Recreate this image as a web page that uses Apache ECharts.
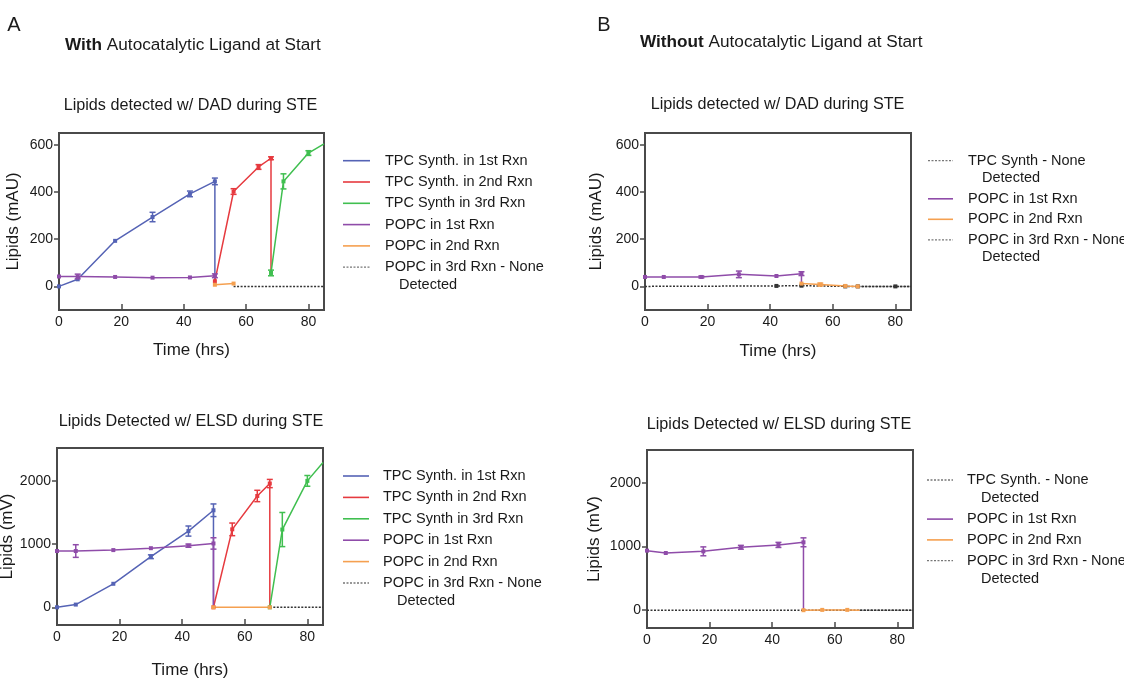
<!DOCTYPE html>
<html><head><meta charset="utf-8">
<script src="https://cdn.jsdelivr.net/npm/echarts@6/dist/echarts.min.js"></script>
<style>html,body{margin:0;padding:0;background:#fff}#c{width:1124px;height:678px}</style>
</head><body><div id="c"></div>
<script>
// ---------------- DATA ----------------
// each point: [time (hrs), value, error]  (error null = no marker, 0 = marker only)
const xTicks = [0, 20, 40, 60, 80];
const yTicksDAD = [0, 200, 400, 600];
const yTicksELSD = [0, 1000, 2000];

// Panel A – DAD (mAU)
const aDadTpc1 = [[0,0,0],[6,30,0],[18,193,0],[30,294,20],[42,392,12],[50,445,14],[50,26,null]];
const aDadTpc2 = [[50,22,0],[56,402,12],[64,506,10],[68,543,6],[68,57,null]];
const aDadTpc3 = [[68,57,12],[72,445,32],[80,565,10],[85,604,null]];
const aDadPopc1 = [[0,42,0],[6,42,10],[18,40,0],[30,37,0],[42,38,0],[50,45,8]];
const aDadPopc2 = [[50,7,0],[56,12,0]];
const aDadPopc3 = [[56,0,null],[85,0,null]];

// Panel A – ELSD (mV)
const aElsdTpc1 = [[0,0,0],[6,43,0],[18,372,0],[30,800,30],[42,1206,80],[50,1535,100],[50,0,null]];
const aElsdTpc2 = [[50,0,0],[56,1233,100],[64,1761,90],[68,1958,65],[68,0,null]];
const aElsdTpc3 = [[68,0,0],[72,1230,270],[80,2000,85],[85,2290,null]];
const aElsdPopc1 = [[0,890,0],[6,890,100],[18,905,0],[30,935,0],[42,975,25],[50,1010,90],[50,0,null]];
const aElsdPopc2 = [[50,0,0],[68,0,0]];
const aElsdPopc3 = [[68,0,null],[85,0,null]];

// Panel B – DAD (mAU)
const bDadTpc = [[0,0,null],[42,2,0],[50,3,0],[64,0,0],[68,0,0],[80,0,0],[85,0,null]];
const bDadPopc1 = [[0,40,0],[6,40,0],[18,40,4],[30,51,14],[42,44,0],[50,54,8],[50,14,null]];
const bDadPopc2 = [[50,12,0],[56,8,6],[64,2,0],[68,0,0]];
const bDadPopc3 = [[68,0,null],[85,0,null]];

// Panel B – ELSD (mV)
const bElsdTpc = [[0,0,null],[85,0,null]];
const bElsdPopc1 = [[0,937,0],[6,900,0],[18,926,70],[30,990,30],[42,1027,40],[50,1068,70],[50,0,null]];
const bElsdPopc2 = [[50,0,0],[56,5,0],[64,5,0],[68,0,null]];
const bElsdPopc3 = [[68,0,null],[85,0,null]];

// Series names (legend labels)
const namesADad = ['TPC Synth. in 1st Rxn','TPC Synth. in 2nd Rxn','TPC Synth in 3rd Rxn','POPC in 1st Rxn','POPC in 2nd Rxn','POPC in 3rd Rxn - None\nDetected'];
const namesAElsd = ['TPC Synth. in 1st Rxn','TPC Synth in 2nd Rxn','TPC Synth in 3rd Rxn','POPC in 1st Rxn','POPC in 2nd Rxn','POPC in 3rd Rxn - None\nDetected'];
const namesBDad = ['TPC Synth - None\nDetected','POPC in 1st Rxn','POPC in 2nd Rxn','POPC in 3rd Rxn - None\nDetected'];
const namesBElsd = ['TPC Synth. - None\nDetected','POPC in 1st Rxn','POPC in 2nd Rxn','POPC in 3rd Rxn - None\nDetected'];

// ---------------- STYLE ----------------
const FONT = '"Liberation Sans", Arial, Helvetica, sans-serif';
const C = {blue:'#5563b5', red:'#e63a3f', green:'#40bf50', purple:'#8f4ca9', orange:'#f5a050', black:'#333333'};
const FRAME = '#4a4a4a';

const panels = [
  {grid:{left:59, top:133, width:265, height:177}, y:[-100,650], yTicks:yTicksDAD, yName:'Lipids (mAU)', yGap:37, xName:'Time (hrs)', xGap:32,
   lines:[[aDadTpc1,C.blue,0],[aDadTpc2,C.red,0],[aDadTpc3,C.green,0],[aDadPopc1,C.purple,0],[aDadPopc2,C.orange,0],[aDadPopc3,C.black,1]],
   names:namesADad, leg:{x1:343, x2:370, tx:385, y:160.7, step:21.3, wrap:17.4}},
  {grid:{left:57, top:448, width:266, height:177}, y:[-280,2520], yTicks:yTicksELSD, yName:'Lipids (mV)', yGap:40, xName:'Time (hrs)', xGap:37,
   lines:[[aElsdTpc1,C.blue,0],[aElsdTpc2,C.red,0],[aElsdTpc3,C.green,0],[aElsdPopc1,C.purple,0],[aElsdPopc2,C.orange,0],[aElsdPopc3,C.black,1]],
   names:namesAElsd, leg:{x1:343, x2:369, tx:383, y:476, step:21.4, wrap:18}},
  {grid:{left:645, top:133, width:266, height:177}, y:[-100,650], yTicks:yTicksDAD, yName:'Lipids (mAU)', yGap:40, xName:'Time (hrs)', xGap:33,
   lines:[[bDadTpc,C.black,1],[bDadPopc1,C.purple,0],[bDadPopc2,C.orange,0],[bDadPopc3,C.black,1]],
   names:namesBDad, leg:{x1:928, x2:953, tx:968, y:160.7, step:20.5, wrap:17.6}},
  {grid:{left:647, top:450, width:266, height:178}, y:[-280,2520], yTicks:yTicksELSD, yName:'Lipids (mV)', yGap:44, xName:'', xGap:33,
   lines:[[bElsdTpc,C.black,1],[bElsdPopc1,C.purple,0],[bElsdPopc2,C.orange,0],[bElsdPopc3,C.black,1]],
   names:namesBElsd, leg:{x1:927, x2:953, tx:967, y:480, step:20.8, wrap:18.3}}
];

function markRender(color) {
  return function (params, api) {
    const t = api.value(0), v = api.value(1), e = api.value(2);
    const p = api.coord([t, v]);
    const ch = [{type:'rect', shape:{x:p[0]-2, y:p[1]-2, width:4, height:4}, style:{fill:color}}];
    if (e > 0) {
      const a = api.coord([t, v + e]), b = api.coord([t, v - e]);
      ch.push({type:'line', shape:{x1:p[0], y1:a[1], x2:p[0], y2:b[1]}, style:{stroke:color, lineWidth:1.5}});
      ch.push({type:'line', shape:{x1:p[0]-3, y1:a[1], x2:p[0]+3, y2:a[1]}, style:{stroke:color, lineWidth:1.5}});
      ch.push({type:'line', shape:{x1:p[0]-3, y1:b[1], x2:p[0]+3, y2:b[1]}, style:{stroke:color, lineWidth:1.5}});
    }
    return {type:'group', children:ch};
  };
}

const grids = [], xAxes = [], yAxes = [], series = [], graphic = [];
const DASH = [2, 1.5];

panels.forEach((P, i) => {
  grids.push(Object.assign({show:true, borderColor:FRAME, borderWidth:2, backgroundColor:'transparent',
    containLabel:false, outerBoundsMode:'none'}, P.grid));
  xAxes.push({type:'value', gridIndex:i, min:0, max:85, interval:20,
    axisLine:{show:true, onZero:false, lineStyle:{color:FRAME, width:2}},
    axisTick:{show:true, inside:true, length:6, customValues:xTicks, lineStyle:{color:FRAME, width:1.5}},
    axisLabel:{customValues:xTicks, fontSize:14, color:'#1a1a1a', fontFamily:FONT, margin:5, formatter:v => String(v)},
    splitLine:{show:false},
    name:P.xName, nameLocation:'middle', nameGap:P.xGap,
    nameTextStyle:{fontSize:17, color:'#1a1a1a', fontFamily:FONT}});
  yAxes.push({type:'value', gridIndex:i, min:P.y[0], max:P.y[1],
    axisLine:{show:true, onZero:false, lineStyle:{color:FRAME, width:2}},
    axisTick:{show:true, length:5, customValues:P.yTicks, lineStyle:{color:FRAME, width:1.5}},
    axisLabel:{customValues:P.yTicks, fontSize:14, color:'#1a1a1a', fontFamily:FONT, margin:6, formatter:v => String(v)},
    splitLine:{show:false},
    name:P.yName, nameLocation:'middle', nameGap:P.yGap, nameRotate:90,
    nameTextStyle:{fontSize:17, color:'#1a1a1a', fontFamily:FONT}});
  P.lines.forEach((L, k) => {
    const [data, color, dashed] = L;
    series.push({type:'line', name:P.names[k], xAxisIndex:i, yAxisIndex:i,
      data:data.map(d => [d[0], d[1]]), symbol:'none', clip:true, silent:true, animation:false,
      lineStyle:{color:color, width:1.5, type: dashed ? DASH : 'solid'}, itemStyle:{color:color}, z:2});
    const marks = data.filter(d => d[2] !== null);
    if (marks.length) {
      series.push({type:'custom', xAxisIndex:i, yAxisIndex:i, data:marks, silent:true, animation:false,
        encode:{x:0, y:1}, renderItem:markRender(color), z:3});
    }
  });
  // legend (drawn as graphic)
  let y = P.leg.y;
  P.lines.forEach((L, k) => {
    const color = L[1], dashed = L[2];
    const parts = P.names[k].split('\n');
    graphic.push({type:'line', silent:true, shape:{x1:P.leg.x1, y1:y, x2:P.leg.x2, y2:y},
      style:{stroke: dashed ? '#777' : color, lineWidth: dashed ? 1.3 : 1.6, lineDash: dashed ? [2,1.5] : null}});
    parts.forEach((s, j) => {
      graphic.push({type:'text', silent:true, x: P.leg.tx + (j ? 14 : 0), y: y + j * P.leg.wrap,
        style:{text:s, font:'14.5px ' + FONT, fill:'#1a1a1a', textVerticalAlign:'middle'}});
    });
    y += (parts.length - 1) * P.leg.wrap + P.leg.step;
  });
});

// headings / subtitles
const texts = [
  {x:14, y:25, t:'A', size:20, align:'center'},
  {x:604, y:25, t:'B', size:20, align:'center'},
  {x:65, y:45, t:'{b|With} Autocatalytic Ligand at Start', size:17.2, align:'left'},
  {x:640, y:42, t:'{b|Without} Autocatalytic Ligand at Start', size:17.2, align:'left'},
  {x:190.5, y:106, t:'Lipids detected w/ DAD during STE', size:16.2, align:'center'},
  {x:191, y:422, t:'Lipids Detected w/ ELSD during STE', size:16.2, align:'center'},
  {x:777.5, y:105, t:'Lipids detected w/ DAD during STE', size:16.2, align:'center'},
  {x:779, y:425, t:'Lipids Detected w/ ELSD during STE', size:16.2, align:'center'}
];
texts.forEach(T => graphic.push({type:'text', silent:true, x:T.x, y:T.y,
  style:{text:T.t, fontSize:T.size, fontFamily:FONT, fill:'#1a1a1a', textAlign:T.align, textVerticalAlign:'middle',
    rich:{b:{fontWeight:'bold', fontSize:T.size, fontFamily:FONT, fill:'#1a1a1a'}}}}));

const chart = echarts.init(document.getElementById('c'), null, {renderer:'canvas'});
chart.setOption({animation:false, backgroundColor:'#ffffff', grid:grids, xAxis:xAxes, yAxis:yAxes, series:series, graphic:graphic});
</script>
</body></html>
